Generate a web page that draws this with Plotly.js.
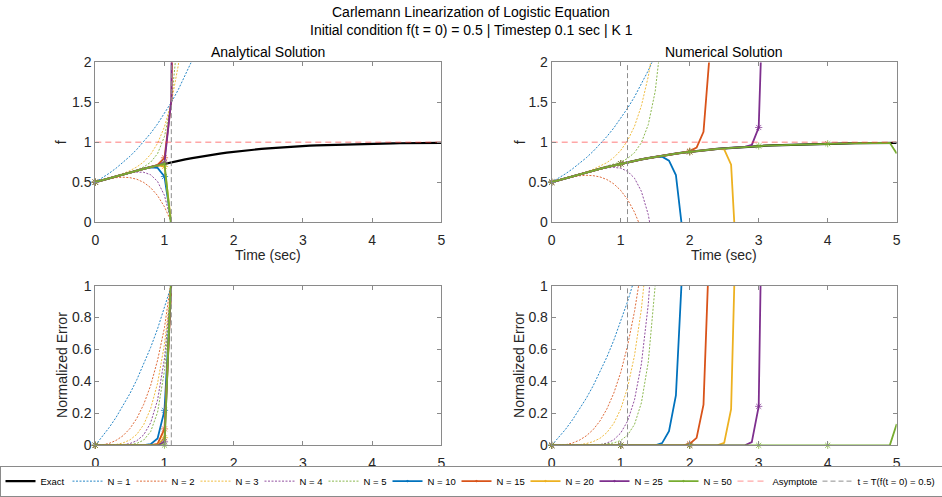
<!DOCTYPE html>
<html>
<head>
<meta charset="utf-8">
<script src="https://cdn.plot.ly/plotly-3.0.1.min.js"></script>
<style>html,body{margin:0;padding:0;background:#fff;}</style>
</head>
<body>
<div id="chart" style="width:942px;height:497px;"></div>
<script>
// ---------------- DATA ----------------
const time = [0,0.1,0.2,0.3,0.4,0.5,0.6,0.7,0.8,0.9,1.0,1.1,1.2,1.3,1.4,1.5,1.6,1.7,1.8,1.9,2.0,2.1,2.2,2.3,2.4,2.5,2.6,2.7,2.8,2.9,3.0,3.1,3.2,3.3,3.4,3.5,3.6,3.7,3.8,3.9,4.0,4.1,4.2,4.3,4.4,4.5,4.6,4.7,4.8,4.9,5.0];
const xTicks = [0,1,2,3,4,5];
const fTicks = [0,0.5,1,1.5,2];
const errTicks = [0,0.2,0.4,0.6,0.8,1];
const fRange = [0,2];
const errRange = [0,1];
const asymptote = 1;
const tCrit = 1.0986;

const seriesNames = ['N = 1','N = 2','N = 3','N = 4','N = 5','N = 10','N = 15','N = 20','N = 25','N = 50'];

const exact = [0.500,0.525,0.550,0.574,0.599,0.622,0.646,0.668,0.690,0.711,0.731,0.750,0.769,0.786,0.802,0.818,0.832,0.846,0.858,0.870,0.881,0.891,0.900,0.909,0.917,0.924,0.931,0.937,0.943,0.948,0.953,0.957,0.961,0.964,0.968,0.971,0.973,0.976,0.978,0.980,0.982,0.984,0.985,0.987,0.988,0.989,0.990,0.991,0.992,0.993,0.993];

// Analytical solution (truncated Carleman), f
const aN1  = [0.500,0.553,0.611,0.675,0.746,0.824,0.911,1.007,1.113,1.230,1.359,1.502,1.660,1.835,2.028];
const aN2  = [0.500,0.524,0.543,0.557,0.562,0.557,0.537,0.497,0.431,0.332,0.191,-0.003];
const aN3  = [0.500,0.525,0.551,0.578,0.608,0.644,0.691,0.755,0.849,0.987,1.195,1.505,1.968,2.654];
const aN4  = [0.500,0.525,0.550,0.574,0.597,0.616,0.627,0.624,0.593,0.509,0.333,-0.006];
const aN5  = [0.500,0.525,0.550,0.575,0.599,0.625,0.653,0.691,0.750,0.858,1.073,1.508,2.383];
const aN10 = [0.500,0.525,0.550,0.574,0.599,0.622,0.646,0.667,0.685,0.680,0.571,-0.016];
const aN15 = [0.500,0.525,0.550,0.574,0.599,0.622,0.646,0.668,0.690,0.717,0.806,1.524,7.890];
const aN20 = [0.500,0.525,0.550,0.574,0.599,0.622,0.646,0.668,0.690,0.710,0.696,-0.032];
const aN25 = [0.500,0.525,0.550,0.574,0.599,0.622,0.646,0.668,0.690,0.711,0.747,1.541,32.20];
const aN50 = [0.500,0.525,0.550,0.574,0.599,0.622,0.646,0.668,0.690,0.711,0.731,-0.082];

// Analytical normalized error
const eN1  = [0,0.053,0.111,0.175,0.246,0.324,0.411,0.507,0.613,0.730,0.859,1.002,1.160];
const eN2  = [0,0.003,0.012,0.031,0.060,0.105,0.169,0.257,0.375,0.533,0.738,1.004,1.346];
const eN3  = [0,0.000,0.001,0.005,0.015,0.034,0.069,0.130,0.230,0.389,0.634,1.006,1.561];
const eN4  = [0,0.000,0.000,0.001,0.004,0.011,0.029,0.066,0.141,0.284,0.545,1.008,1.811];
const eN5  = [0,0.000,0.000,0.000,0.001,0.004,0.012,0.033,0.086,0.207,0.468,1.010,2.101];
const eN10 = [0,0,0,0,0,0,0.000,0.001,0.007,0.043,0.219,1.021,4.414];
const eN15 = [0,0,0,0,0,0,0,0.000,0.001,0.009,0.103,1.032,9.270];
const eN20 = [0,0,0,0,0,0,0,0,0.000,0.002,0.048,1.042,19.48];
const eN25 = [0,0,0,0,0,0,0,0,0,0.000,0.022,1.053,40.90];
const eN50 = [0,0,0,0,0,0,0,0,0,0,0.001,1.109,1675];

// Numerical solution (Euler, dt = 0.1), f
const nN1  = [0.500,0.550,0.605,0.666,0.732,0.805,0.886,0.974,1.072,1.179,1.297,1.427,1.569,1.726,1.899,2.089];
const nN2  = [0.500,0.525,0.548,0.566,0.580,0.586,0.582,0.566,0.533,0.479,0.397,0.282,0.125,-0.086];
const nN3  = [0.500,0.525,0.550,0.575,0.601,0.629,0.660,0.698,0.745,0.809,0.897,1.022,1.200,1.457,1.825,2.350];
const nN4  = [0.500,0.525,0.550,0.575,0.599,0.623,0.646,0.666,0.680,0.686,0.675,0.636,0.550,0.385,0.093,-0.404];
const nN5  = [0.500,0.525,0.550,0.575,0.600,0.624,0.648,0.671,0.695,0.722,0.753,0.798,0.870,0.995,1.222,1.637,2.390];
const nN10 = [0.500,0.525,0.550,0.574,0.599,0.622,0.646,0.668,0.690,0.711,0.731,0.750,0.769,0.786,0.802,0.818,0.820,0.770,0.590,-0.150];
const nN15 = [0.500,0.525,0.550,0.574,0.599,0.622,0.646,0.668,0.690,0.711,0.731,0.750,0.769,0.786,0.802,0.818,0.832,0.846,0.858,0.870,0.889,0.933,1.130,2.220];
const nN20 = [0.500,0.525,0.550,0.574,0.599,0.622,0.646,0.668,0.690,0.711,0.731,0.750,0.769,0.786,0.802,0.818,0.832,0.846,0.858,0.870,0.881,0.891,0.900,0.909,0.917,0.910,0.720,-0.850];
const nN25 = [0.500,0.525,0.550,0.574,0.599,0.622,0.646,0.668,0.690,0.711,0.731,0.750,0.769,0.786,0.802,0.818,0.832,0.846,0.858,0.870,0.881,0.891,0.900,0.909,0.917,0.924,0.931,0.937,0.943,0.967,1.185,3.900];
const nN50 = [0.500,0.525,0.550,0.574,0.599,0.622,0.646,0.668,0.690,0.711,0.731,0.750,0.769,0.786,0.802,0.818,0.832,0.846,0.858,0.870,0.881,0.891,0.900,0.909,0.917,0.924,0.931,0.937,0.943,0.948,0.953,0.957,0.961,0.964,0.968,0.971,0.973,0.976,0.978,0.980,0.982,0.984,0.985,0.987,0.988,0.989,0.990,0.991,0.992,0.993,0.860];

// Numerical normalized error
const neN1  = [0,0.048,0.100,0.159,0.223,0.294,0.372,0.458,0.553,0.658,0.774,0.901,1.042];
const neN2  = [0,0.000,0.004,0.014,0.032,0.059,0.098,0.153,0.228,0.327,0.456,0.624,0.838,1.109];
const neN3  = [0,0.000,0.000,0.001,0.004,0.011,0.023,0.044,0.080,0.138,0.227,0.362,0.562,0.854,1.275];
const neN4  = [0,0.000,0.000,0.001,0.001,0.001,0.000,0.004,0.014,0.035,0.077,0.152,0.285,0.510,0.885,1.494];
const neN5  = [0,0.000,0.000,0.001,0.001,0.002,0.003,0.005,0.008,0.015,0.030,0.064,0.131,0.266,0.523,1.002];
const neN10 = [0,0,0,0,0,0,0,0,0,0,0,0,0,0,0,0,0.014,0.089,0.312,1.172];
const neN15 = [0,0,0,0,0,0,0,0,0,0,0,0,0,0,0,0,0,0,0,0,0.009,0.047,0.255,1.442];
const neN20 = [0,0,0,0,0,0,0,0,0,0,0,0,0,0,0,0,0,0,0,0,0,0,0,0,0,0.015,0.227,1.907];
const neN25 = [0,0,0,0,0,0,0,0,0,0,0,0,0,0,0,0,0,0,0,0,0,0,0,0,0,0,0,0,0,0.020,0.244,3.076];
const neN50 = [0,0,0,0,0,0,0,0,0,0,0,0,0,0,0,0,0,0,0,0,0,0,0,0,0,0,0,0,0,0,0,0,0,0,0,0,0,0,0,0,0,0,0,0,0,0,0,0,0,0,0.134];

// ---------------- STYLE ----------------
const W = 942, H = 497;
const px = v => v / W;
const py = v => 1 - v / H;
const palette = ['#0072BD','#D95319','#EDB120','#7E2F8E','#77AC30'];
const FONT = '"Liberation Sans", Arial, Helvetica, sans-serif';
const AXC = '#8a8a8a';
const legendW = [19,19,19,19,19,24,24,24,24,24];

const panels = [
  {xa:'x',  ya:'y',  f:true,  data:[aN1,aN2,aN3,aN4,aN5,aN10,aN15,aN20,aN25,aN50], legend:true},
  {xa:'x2', ya:'y2', f:true,  data:[nN1,nN2,nN3,nN4,nN5,nN10,nN15,nN20,nN25,nN50], legend:false},
  {xa:'x3', ya:'y3', f:false, data:[eN1,eN2,eN3,eN4,eN5,eN10,eN15,eN20,eN25,eN50], legend:false},
  {xa:'x4', ya:'y4', f:false, data:[neN1,neN2,neN3,neN4,neN5,neN10,neN15,neN20,neN25,neN50], legend:false}
];

const traces = [];
panels.forEach(p => {
  const yr = p.f ? fRange : errRange;
  if (p.f) {
    traces.push({
      x: time, y: exact, xaxis: p.xa, yaxis: p.ya, name: 'Exact', mode: 'lines',
      line: {color: '#000000', width: 2.2}, showlegend: p.legend, legendwidth: 22
    });
  }
  p.data.forEach((arr, i) => {
    const xs = time.slice(0, arr.length);
    const c = palette[i % 5];
    if (i < 5) {
      traces.push({
        x: xs, y: arr, xaxis: p.xa, yaxis: p.ya, name: seriesNames[i], mode: 'lines',
        line: {color: c, width: 1, dash: '2px,1.5px'}, opacity: 0.85,
        showlegend: p.legend, legendwidth: legendW[i]
      });
    } else {
      const sizes = xs.map((t, k) => (k % 10 === 0 && k < 50) ? 6 : 0);
      traces.push({
        x: xs, y: arr, xaxis: p.xa, yaxis: p.ya, name: seriesNames[i], mode: 'lines+markers',
        line: {color: c, width: 1.8},
        marker: {symbol: 'asterisk-open', size: sizes, color: c, line: {color: c, width: 1}},
        cliponaxis: false, showlegend: p.legend, legendwidth: legendW[i]
      });
    }
  });
  if (p.f) {
    traces.push({
      x: [time[0], time[time.length - 1]], y: [asymptote, asymptote], xaxis: p.xa, yaxis: p.ya,
      name: 'Asymptote', mode: 'lines', line: {color: 'rgba(255,60,60,0.45)', width: 1.3, dash: '6px,4px'},
      showlegend: p.legend, legendwidth: 40
    });
  }
  traces.push({
    x: [tCrit, tCrit], y: [yr[0], yr[1]], xaxis: p.xa, yaxis: p.ya,
    name: 't = T(f(t = 0) = 0.5)', mode: 'lines', line: {color: '#8f8f8f', width: 1, dash: '5px,3px'},
    showlegend: p.legend, legendwidth: 79
  });
});

const xL = [px(95.3), px(441.3)];
const xR = [px(551.7), px(896.7)];
const yT = [py(225.3), py(63.3)];
const yB = [py(451.7), py(289.7)];

function xAxis(dom, anchor) {
  return {domain: dom, anchor: anchor, range: [0, 5], tickvals: xTicks, ticks: 'inside', ticklen: 4,
    tickcolor: AXC, showline: true, linecolor: AXC, linewidth: 1, mirror: 'ticks',
    ticklabelstandoff: 5,
    showgrid: false, zeroline: false, tickfont: {family: FONT, size: 14, color: '#262626'}};
}
function yAxis(dom, anchor, rng, tv) {
  return {domain: dom, anchor: anchor, range: rng, tickvals: tv, ticks: 'inside', ticklen: 4,
    tickcolor: AXC, showline: true, linecolor: AXC, linewidth: 1, mirror: 'ticks',
    showgrid: false, zeroline: false, tickfont: {family: FONT, size: 14, color: '#262626'}};
}

function ann(text, x, y, size, extra) {
  return Object.assign({text: text, x: px(x), y: py(y), xref: 'paper', yref: 'paper', showarrow: false,
    xanchor: 'center', yanchor: 'middle', font: {family: FONT, size: size, color: '#000'}}, extra || {});
}

const layout = {
  width: W, height: H, margin: {l: 0, r: 0, t: 0, b: 0},
  paper_bgcolor: '#ffffff', plot_bgcolor: '#ffffff',
  font: {family: FONT, color: '#262626'},
  showlegend: true,
  xaxis: xAxis(xL, 'y'), yaxis: yAxis(yT, 'x', fRange, fTicks),
  xaxis2: xAxis(xR, 'y2'), yaxis2: yAxis(yT, 'x2', fRange, fTicks),
  xaxis3: xAxis(xL, 'y3'), yaxis3: yAxis(yB, 'x3', errRange, errTicks),
  xaxis4: xAxis(xR, 'y4'), yaxis4: yAxis(yB, 'x4', errRange, errTicks),
  legend: {orientation: 'h', x: 0.5, xanchor: 'center', y: py(488), yanchor: 'middle',
    font: {family: FONT, size: 9.5, color: '#000'}, bordercolor: AXC, borderwidth: 1,
    bgcolor: '#ffffff', itemwidth: 30, traceorder: 'normal'},
  annotations: [
    ann('Carlemann Linearization of Logistic Equation', 471, 12, 14),
    ann('Initial condition f(t = 0) = 0.5 | Timestep 0.1 sec | K 1', 471, 30, 14),
    ann('Analytical Solution', 268.3, 53, 14),
    ann('Numerical Solution', 724.2, 53, 14),
    ann('Time (sec)', 268.3, 259, 14, {font: {family: FONT, size: 14, color: '#262626'}}),
    ann('Time (sec)', 724.2, 259, 14, {font: {family: FONT, size: 14, color: '#262626'}}),
    ann('f', 61, 144.3, 14, {textangle: -90, font: {family: FONT, size: 14, color: '#262626'}}),
    ann('f', 520, 144.3, 14, {textangle: -90, font: {family: FONT, size: 14, color: '#262626'}}),
    ann('Normalized Error', 62.5, 370.7, 14, {textangle: -90, font: {family: FONT, size: 14, color: '#262626'}}),
    ann('Normalized Error', 519.5, 370.7, 14, {textangle: -90, font: {family: FONT, size: 14, color: '#262626'}})
  ]
};

Plotly.newPlot('chart', traces, layout, {staticPlot: true, displayModeBar: false});
</script>
</body>
</html>
